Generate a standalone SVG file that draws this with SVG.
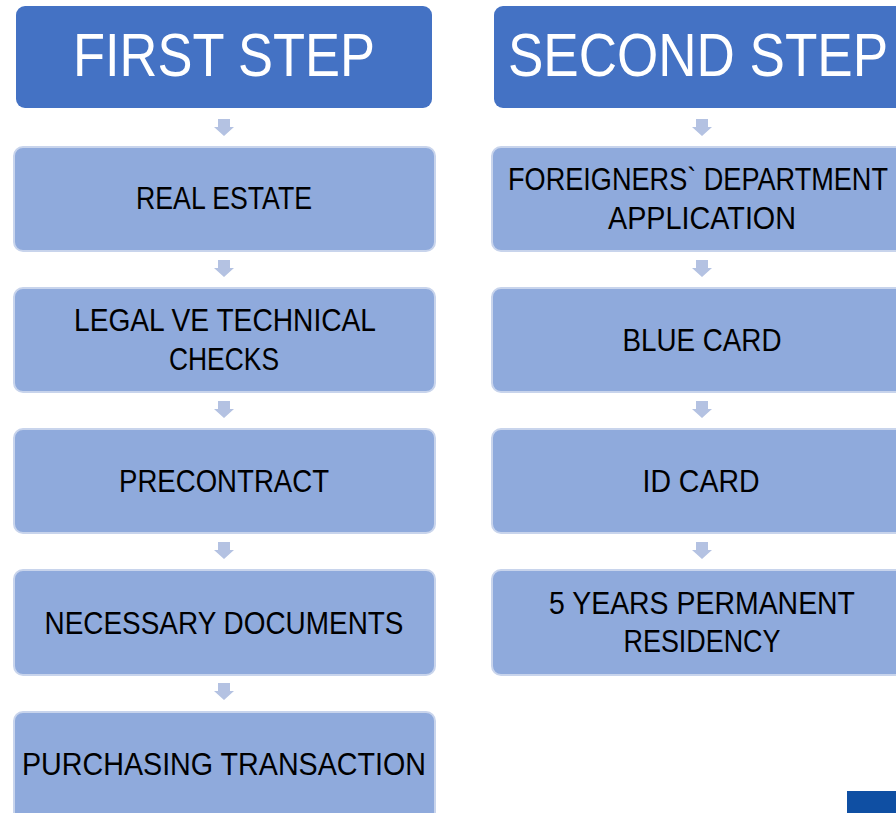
<svg xmlns="http://www.w3.org/2000/svg" width="896" height="813" viewBox="0 0 896 813">
<defs>
<style>
.hdr{fill:#4472C4}
.box{fill:#8FAADC;stroke:#C8D4EC;stroke-width:2}
.arr{fill:#B4C2E2}
.ht{font-family:"Liberation Sans",Arial,sans-serif;font-size:62px;fill:#FFFFFF;text-anchor:middle}
.bt{font-family:"Liberation Sans",Arial,sans-serif;font-size:31px;fill:#000000;text-anchor:middle}
</style>
<path id="ar" d="M-6,0 h12 v8 h4 l-10,9 l-10,-9 h4 z"/>
</defs>
<rect width="896" height="813" fill="#FFFFFF"/>
<g id="connectors">
<use href="#ar" class="arr" x="224" y="119"/>
<use href="#ar" class="arr" x="224" y="260"/>
<use href="#ar" class="arr" x="224" y="401"/>
<use href="#ar" class="arr" x="224" y="542"/>
<use href="#ar" class="arr" x="224" y="683"/>
<use href="#ar" class="arr" x="702" y="119"/>
<use href="#ar" class="arr" x="702" y="260"/>
<use href="#ar" class="arr" x="702" y="401"/>
<use href="#ar" class="arr" x="702" y="542"/>
</g>
<g id="first-step">
<rect class="hdr" x="16" y="6" width="416" height="102" rx="9"/>
<text class="ht" x="224" y="76" textLength="302" lengthAdjust="spacingAndGlyphs">FIRST STEP</text>
</g>
<g id="second-step">
<rect class="hdr" x="494" y="6" width="416" height="102" rx="9"/>
<text class="ht" x="698" y="76" textLength="380" lengthAdjust="spacingAndGlyphs">SECOND STEP</text>
</g>
<g id="real-estate">
<rect class="box" x="14" y="147" width="421" height="104" rx="9"/>
<text class="bt" x="224" y="209" textLength="176" lengthAdjust="spacingAndGlyphs">REAL ESTATE</text>
</g>
<g id="legal-checks">
<rect class="box" x="14" y="288" width="421" height="104" rx="9"/>
<text class="bt" x="225" y="331" textLength="302" lengthAdjust="spacingAndGlyphs">LEGAL VE TECHNICAL</text>
<text class="bt" x="224" y="370" textLength="110" lengthAdjust="spacingAndGlyphs">CHECKS</text>
</g>
<g id="precontract">
<rect class="box" x="14" y="429" width="421" height="104" rx="9"/>
<text class="bt" x="224" y="492" textLength="210" lengthAdjust="spacingAndGlyphs">PRECONTRACT</text>
</g>
<g id="necessary-documents">
<rect class="box" x="14" y="570" width="421" height="105" rx="9"/>
<text class="bt" x="224" y="634" textLength="359" lengthAdjust="spacingAndGlyphs">NECESSARY DOCUMENTS</text>
</g>
<g id="purchasing-transaction">
<rect class="box" x="14" y="712" width="421" height="112" rx="9"/>
<text class="bt" x="224" y="775" textLength="404" lengthAdjust="spacingAndGlyphs">PURCHASING TRANSACTION</text>
</g>
<g id="foreigners-application">
<rect class="box" x="492" y="147" width="421" height="104" rx="9"/>
<text class="bt" x="698" y="190" textLength="380" lengthAdjust="spacingAndGlyphs">FOREIGNERS` DEPARTMENT</text>
<text class="bt" x="702" y="229" textLength="188" lengthAdjust="spacingAndGlyphs">APPLICATION</text>
</g>
<g id="blue-card">
<rect class="box" x="492" y="288" width="421" height="104" rx="9"/>
<text class="bt" x="702" y="351" textLength="159" lengthAdjust="spacingAndGlyphs">BLUE CARD</text>
</g>
<g id="id-card">
<rect class="box" x="492" y="429" width="421" height="104" rx="9"/>
<text class="bt" x="701" y="492" textLength="117" lengthAdjust="spacingAndGlyphs">ID CARD</text>
</g>
<g id="permanent-residency">
<rect class="box" x="492" y="570" width="421" height="105" rx="9"/>
<text class="bt" x="702" y="614" textLength="306" lengthAdjust="spacingAndGlyphs">5 YEARS PERMANENT</text>
<text class="bt" x="702" y="652" textLength="157" lengthAdjust="spacingAndGlyphs">RESIDENCY</text>
</g>
<rect x="847" y="791" width="49" height="22" fill="#0F4FA3"/>
</svg>
